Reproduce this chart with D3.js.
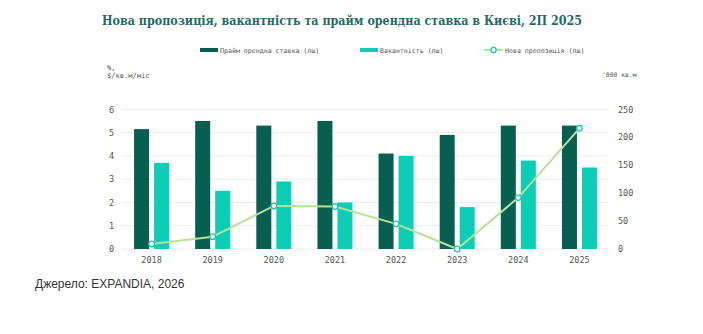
<!DOCTYPE html>
<html>
<head>
<meta charset="utf-8">
<script src="https://cdn.jsdelivr.net/npm/d3@7/dist/d3.min.js"></script>
<style>
  html, body { margin: 0; padding: 0; background: #fff; }
  svg { display: block; }
</style>
</head>
<body>
<svg id="chart" width="703" height="334"></svg>
<script>
// Kyiv office market, H2 2025
const years = ["2018", "2019", "2020", "2021", "2022", "2023", "2024", "2025"];
const primeRent = [5.15, 5.5, 5.3, 5.5, 4.1, 4.9, 5.3, 5.3];      // $/кв.м/міс (left axis)
const vacancy = [3.7, 2.5, 2.9, 2.0, 4.0, 1.8, 3.8, 3.5];         // % (left axis)
const newSupply = [9, 22, 77, 76, 45, 0, 92, 216];                 // '000 кв.м (right axis)
const leftTicks = [0, 1, 2, 3, 4, 5, 6];
const rightTicks = [0, 50, 100, 150, 200, 250];

const C_DARK = "#075f51";
const C_LIGHT = "#0ccdb6";
const C_LINE = "#b3e39a";
const C_MARK = "#22c4b0";
const MONO = "'DejaVu Sans Mono', 'Liberation Mono', monospace";

const svg = d3.select("#chart");

const x = d3.scaleBand().domain(years).range([121, 610]);
const yL = d3.scaleLinear().domain([0, 6]).range([249, 109.3]);
const yR = d3.scaleLinear().domain([0, 250]).range([249, 109.3]);

// Title, kept within a fixed width
const title = svg.append("text")
  .attr("x", 342).attr("y", 25)
  .attr("text-anchor", "middle")
  .attr("font-family", "'DejaVu Serif Condensed', 'DejaVu Serif', serif")
  .attr("font-weight", "bold")
  .attr("font-size", 13.8)
  .attr("fill", "#1f6b5f")
  .text("Нова пропозиція, вакантність та прайм орендна ставка в Києві, 2П 2025");
if (title.node().getComputedTextLength() > 480) {
  title.attr("textLength", 480).attr("lengthAdjust", "spacingAndGlyphs");
}

// Legend
const leg = svg.append("g").attr("font-family", MONO).attr("font-size", 6.6).attr("fill", "#555");
leg.append("rect").attr("x", 200).attr("y", 48).attr("width", 18).attr("height", 4).attr("fill", C_DARK);
leg.append("text").attr("x", 220).attr("y", 52.5).text("Прайм орендна ставка (лш)");
leg.append("rect").attr("x", 360).attr("y", 48).attr("width", 18).attr("height", 4).attr("fill", C_LIGHT);
leg.append("text").attr("x", 380).attr("y", 52.5).text("Вакантність (лш)");
leg.append("line").attr("x1", 484).attr("x2", 503).attr("y1", 50).attr("y2", 50)
  .attr("stroke", C_LINE).attr("stroke-width", 2);
leg.append("circle").attr("cx", 493.5).attr("cy", 50).attr("r", 2.6)
  .attr("fill", "#fff").attr("stroke", C_MARK).attr("stroke-width", 1.3);
leg.append("text").attr("x", 505).attr("y", 52.5).text("Нова пропозиція (пш)");

// Axis unit labels
const units = svg.append("g").attr("font-family", MONO).attr("fill", "#555");
units.append("text").attr("x", 107).attr("y", 70).attr("font-size", 7.1).text("%,");
units.append("text").attr("x", 107).attr("y", 78).attr("font-size", 7.1).text("$/кв.м/міс");
units.append("text").attr("x", 602).attr("y", 77).attr("font-size", 6.4).text("'000 кв.м");

// Gridlines
svg.append("g")
  .selectAll("line").data(leftTicks).join("line")
  .attr("x1", 121).attr("x2", 609)
  .attr("y1", d => yL(d)).attr("y2", d => yL(d))
  .attr("stroke", "#ececec").attr("stroke-width", 1);

// Left axis
const axL = svg.append("g").attr("transform", "translate(114,0)")
  .call(d3.axisLeft(yL).tickValues(leftTicks).tickSize(0).tickPadding(0).tickFormat(d3.format("d")));
axL.select(".domain").remove();
axL.selectAll("text").attr("font-family", MONO).attr("font-size", 8.5).attr("fill", "#555");

// Right axis
const axR = svg.append("g").attr("transform", "translate(618,0)")
  .call(d3.axisRight(yR).tickValues(rightTicks).tickSize(0).tickPadding(0).tickFormat(d3.format("d")));
axR.select(".domain").remove();
axR.selectAll("text").attr("font-family", MONO).attr("font-size", 8.5).attr("fill", "#555");

// Bottom axis
const axB = svg.append("g").attr("transform", "translate(0,257)")
  .call(d3.axisBottom(x).tickSize(0).tickPadding(0));
axB.select(".domain").remove();
axB.selectAll("text").attr("font-family", MONO).attr("font-size", 8.5).attr("fill", "#555");

// Bars
const barW = 15, gap = 5;
const bars = svg.append("g");
bars.selectAll("rect.rent").data(years).join("rect")
  .attr("class", "rent")
  .attr("x", d => x(d) + x.bandwidth() / 2 - gap / 2 - barW)
  .attr("width", barW)
  .attr("y", (d, i) => yL(primeRent[i]))
  .attr("height", (d, i) => yL(0) - yL(primeRent[i]))
  .attr("fill", C_DARK);
bars.selectAll("rect.vac").data(years).join("rect")
  .attr("class", "vac")
  .attr("x", d => x(d) + x.bandwidth() / 2 + gap / 2)
  .attr("width", barW)
  .attr("y", (d, i) => yL(vacancy[i]))
  .attr("height", (d, i) => yL(0) - yL(vacancy[i]))
  .attr("fill", C_LIGHT);

// New supply line
const pts = years.map((d, i) => [x(d) + x.bandwidth() / 2, yR(newSupply[i])]);
svg.append("path")
  .attr("d", d3.line()(pts))
  .attr("fill", "none").attr("stroke", C_LINE).attr("stroke-width", 2);
svg.append("g").selectAll("circle").data(pts).join("circle")
  .attr("cx", d => d[0]).attr("cy", d => d[1]).attr("r", 2.8)
  .attr("fill", "#fff").attr("stroke", C_MARK).attr("stroke-width", 1.3);

// Source
svg.append("text")
  .attr("x", 35).attr("y", 288)
  .attr("font-family", "'Liberation Sans', Arial, sans-serif")
  .attr("font-size", 12)
  .attr("fill", "#333")
  .text("Джерело: EXPANDIA, 2026");
</script>
</body>
</html>
